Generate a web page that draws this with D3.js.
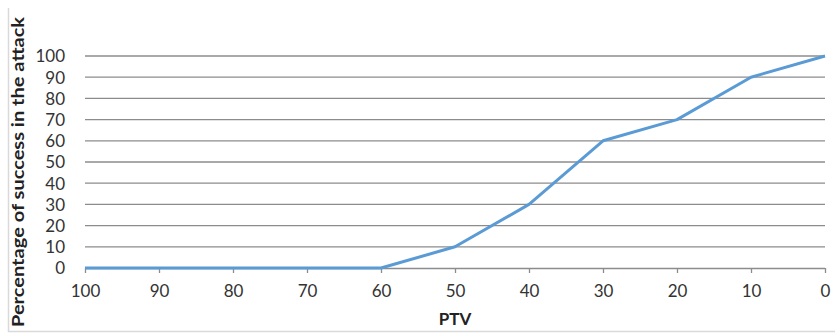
<!DOCTYPE html>
<html><head><meta charset="utf-8">
<script src="https://cdn.jsdelivr.net/npm/d3@7"></script>
<style>html,body{margin:0;padding:0;background:#fff;}</style>
</head><body>
<svg id="c" width="835" height="334"></svg>
<script>
const categories = ["100","90","80","70","60","50","40","30","20","10","0"];
const successValues = [0,0,0,0,0,10,30,60,70,90,100];
const yTicks = [0,10,20,30,40,50,60,70,80,90,100];
const yTitle = "Percentage of success in the attack";
const xTitle = "PTV";

const svg = d3.select("#c");
const font = "Lato, 'Open Sans', sans-serif";
const mLeft = 85, mRight = 825, mTop = 56, mBottom = 268;

// frame
svg.append("path").attr("d","M8.5,8 V331.5 H835").attr("fill","none").attr("stroke","#d9d9d9").attr("stroke-width",1.5);

const x = d3.scalePoint().domain(categories).range([mLeft,mRight]);
const y = d3.scaleLinear().domain([0,100]).range([mBottom,mTop]);

// gridlines
svg.append("g").selectAll("line").data(yTicks.filter(d=>d>0)).join("line")
  .attr("x1",mLeft).attr("x2",mRight).attr("y1",d=>y(d)).attr("y2",d=>y(d))
  .attr("stroke","#8c8c8c").attr("stroke-width",1.3);

// y axis labels
const yAxis = d3.axisLeft(y).tickValues(yTicks).tickSize(0).tickPadding(0);
const gy = svg.append("g").attr("transform",`translate(${mLeft-20},0)`).call(yAxis);
gy.select(".domain").remove();
gy.selectAll("text").attr("font-family",font).attr("font-size",17).attr("fill","#333").attr("dy","0.35em");

// x axis
const xAxis = d3.axisBottom(x).tickSize(5).tickPadding(12);
const gx = svg.append("g").attr("transform",`translate(0,${mBottom})`).call(xAxis);
gx.select(".domain").attr("stroke","#8c8c8c").attr("stroke-width",1.3).attr("d",`M${mLeft},0.5H${mRight}`);
gx.selectAll(".tick line").attr("stroke","#8c8c8c").attr("stroke-width",1.3);
gx.selectAll("text").attr("font-family",font).attr("font-size",17).attr("fill","#333");

// line
const line = d3.line().x((d,i)=>x(categories[i])).y(d=>y(d));
svg.append("path").datum(successValues).attr("d",line)
  .attr("fill","none").attr("stroke","#5b9bd5").attr("stroke-width",3).attr("stroke-linejoin","round");

// titles
svg.append("text").attr("x",(mLeft+mRight)/2).attr("y",325).attr("text-anchor","middle")
  .attr("font-family",font).attr("font-weight","bold").attr("font-size",17).attr("fill","#222").text(xTitle);
svg.append("text").attr("transform","translate(24,172) rotate(-90)").attr("text-anchor","middle")
  .attr("font-family",font).attr("font-weight","bold").attr("font-size",17).attr("fill","#222")
  .attr("textLength",310).attr("lengthAdjust","spacingAndGlyphs").text(yTitle);
</script>
</body></html>
